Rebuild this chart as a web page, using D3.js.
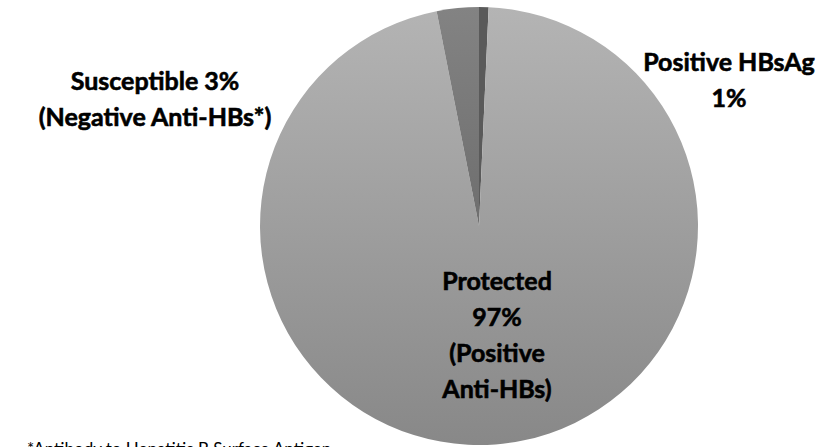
<!DOCTYPE html>
<html><head><meta charset="utf-8">
<script src="https://cdn.jsdelivr.net/npm/d3@7"></script>
<style>html,body{margin:0;padding:0;background:#fff;}svg{display:block;}</style>
</head><body>
<svg id="chart" width="836" height="447"></svg>
<script>
const categories = ["Positive HBsAg", "Protected", "Susceptible"];
const values = [0.7, 96.2, 3.1];
const labelLines = [
  ["Positive HBsAg", "1%"],
  ["Protected", "97%", "(Positive", "Anti-HBs)"],
  ["Susceptible 3%", "(Negative Anti-HBs*)"]
];
const footnote = "*Antibody to Hepatitis B Surface Antigen";

const svg = d3.select("#chart");
const cx = 479, cy = 226, r = 219;
const defs = svg.append("defs");
const g1 = defs.append("linearGradient").attr("id","gBig").attr("x1","0").attr("y1","0").attr("x2","0").attr("y2","1");
g1.append("stop").attr("offset","0%").attr("stop-color","#b4b4b4");
g1.append("stop").attr("offset","100%").attr("stop-color","#888888");
const g2 = defs.append("linearGradient").attr("id","gSus").attr("x1","0").attr("y1","0").attr("x2","0").attr("y2","1");
g2.append("stop").attr("offset","0%").attr("stop-color","#838383");
g2.append("stop").attr("offset","100%").attr("stop-color","#6e6e6e");
const fills = ["#5a5a5a", "url(#gBig)", "url(#gSus)"];

const pie = d3.pie().sort(null).value(d => d);
const arcs = pie(values);
const arc = d3.arc().innerRadius(0).outerRadius(r);
const gp = svg.append("g").attr("transform", `translate(${cx},${cy})`);
gp.selectAll("path").data(arcs).join("path")
  .attr("d", arc).attr("fill", (d,i) => fills[i]);

const font = "Lato, 'Open Sans', sans-serif";
const fs = 25;
const lh = 36;
const labelPos = [[729, 62], [497, 281], [155, 81]];
labelLines.forEach((lines, i) => {
  const t = svg.append("text").attr("text-anchor","middle")
    .attr("font-family", font).attr("font-weight","bold").attr("font-size", fs)
    .attr("fill","#000").attr("stroke","#000").attr("stroke-width",0.6);
  lines.forEach((s, j) => {
    t.append("tspan").attr("x", labelPos[i][0]).attr("y", labelPos[i][1] + j*lh + 0.36*fs)
      .text(s);
  });
});

// footnote: fit so that "*Antibody to Hepatitis B Surface Ant" spans ~273px
const probe = svg.append("text").attr("font-family", font).attr("font-size", 100)
  .text("*Antibody to Hepatitis B Surface Ant");
const w100 = probe.node().getComputedTextLength();
probe.remove();
const ffs = 100 * 273 / w100;
svg.append("text").attr("x", 27).attr("y", 443 + 0.72*ffs)
  .attr("font-family", font).attr("font-size", ffs).attr("fill","#000")
  .text(footnote);
</script>
</body></html>
